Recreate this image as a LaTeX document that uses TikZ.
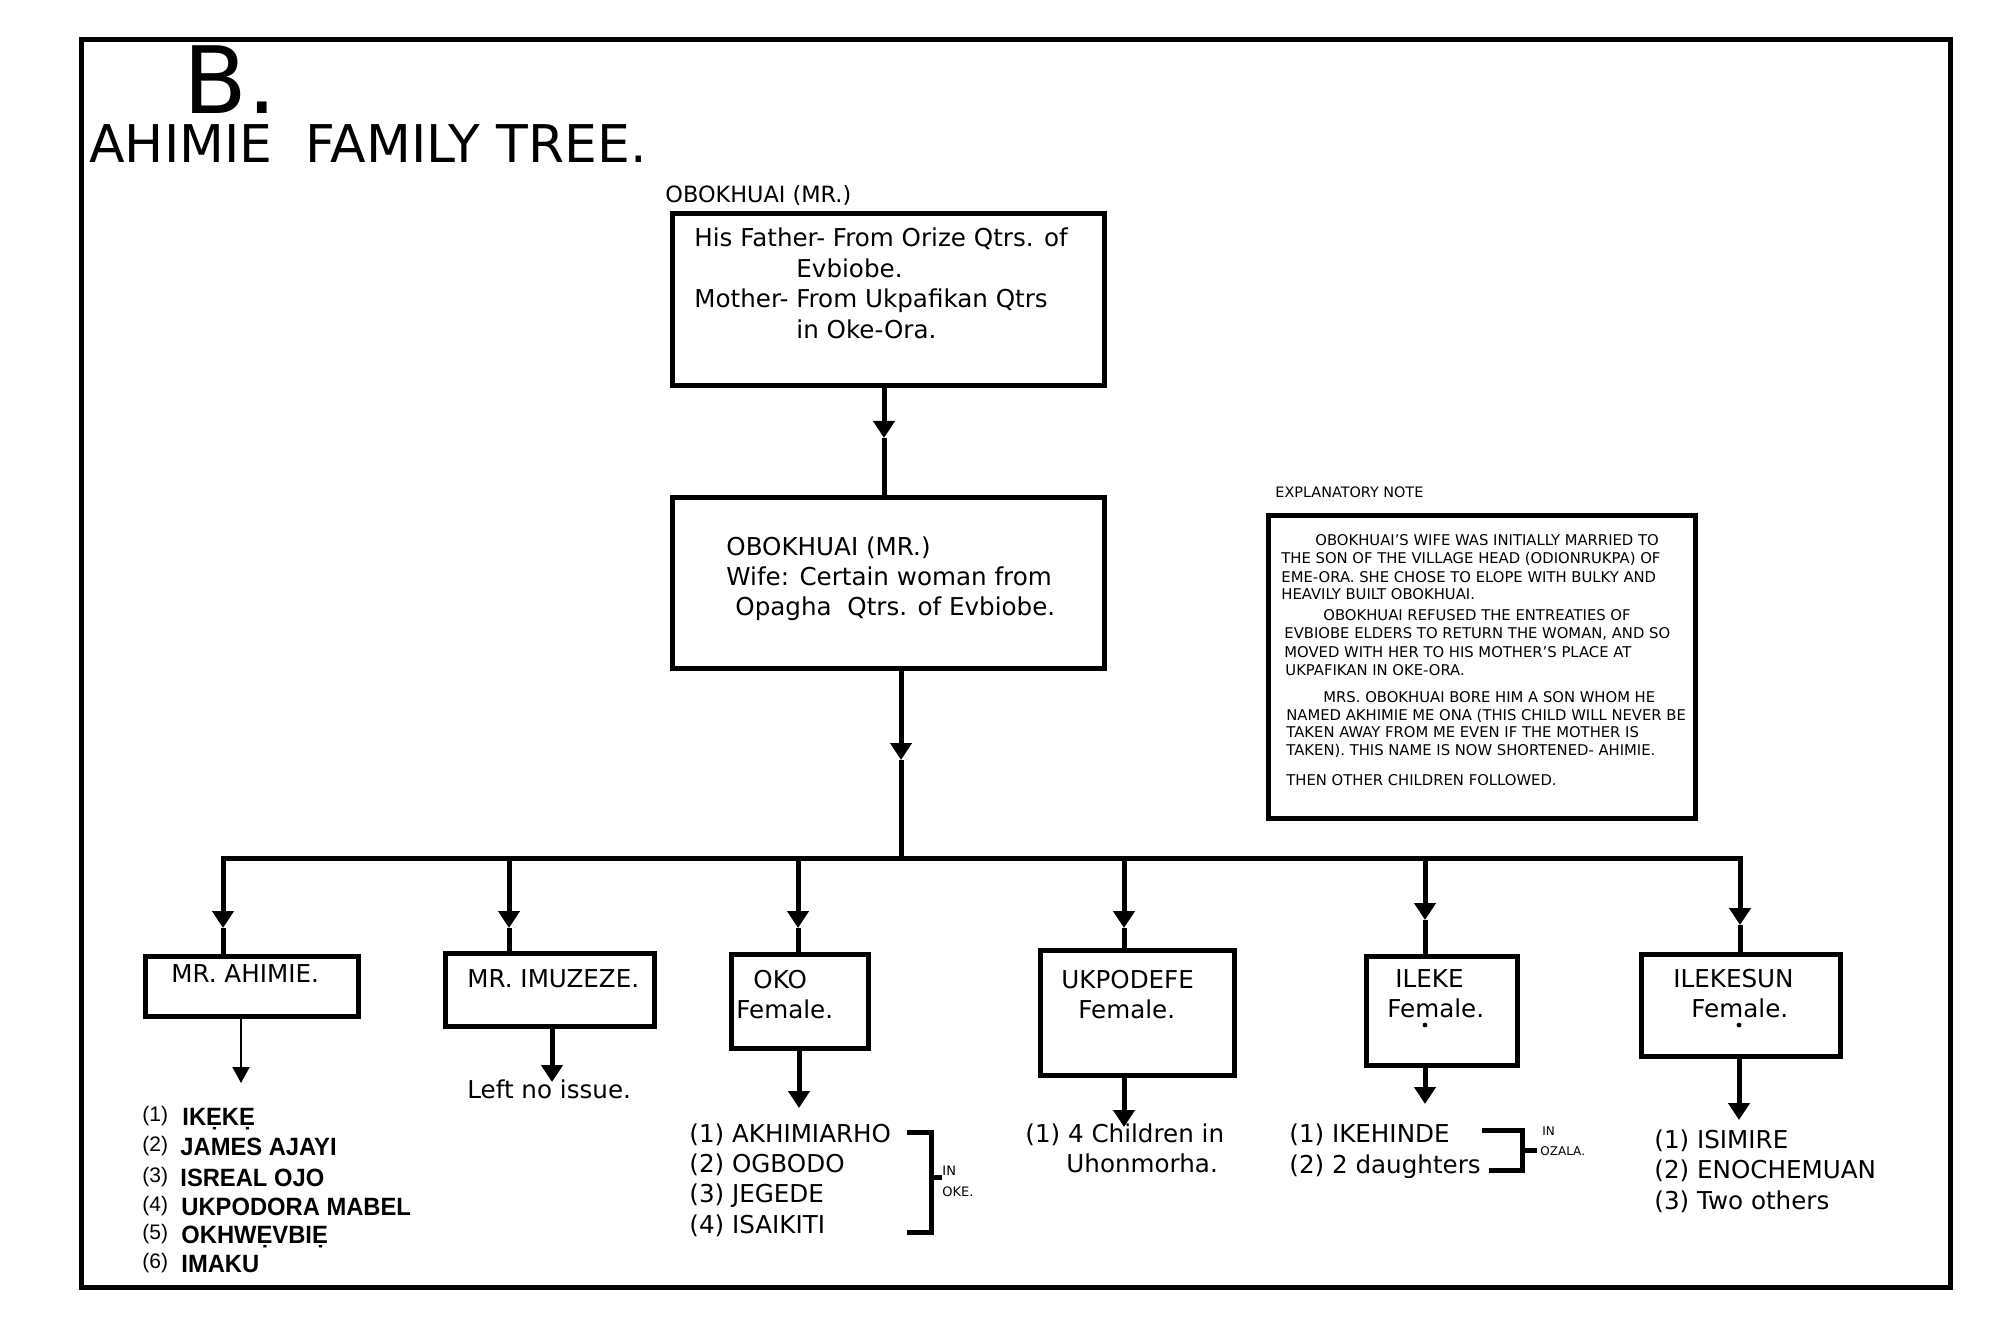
\documentclass[tikz,border=0pt]{standalone}
\usepackage{fontspec}
\setmainfont{DejaVu Sans}
\newfontfamily\arialfont{Liberation Sans}
\newfontfamily\arialnarrow{Liberation Sans}[FakeStretch=0.95]
\usetikzlibrary{arrows.meta}
\newcommand\fsz[1]{\fontsize{#1}{#1}\selectfont}
\newcommand\fambox[5]{\node[boxst,minimum width={(#4-#2)*0.5pt},minimum height={(#5-#3)*0.5pt}] (#1) at ({(#2+#4)/2},{(#3+#5)/2}) {};}
\begin{document}
\begin{tikzpicture}[x=0.5pt,y=-0.5pt,
  conn/.style={line width=2.5pt},
  bar/.style={line width=2.5pt,line cap=rect},
  tip/.style={-{Triangle[width=10.5pt,length=8.5pt]}},
  thintip/.style={-{Triangle[width=8.5pt,length=8pt]}},
  boxst/.style={draw,line width=2.5pt,rectangle,inner sep=0pt},
  txt/.style={inner sep=0pt,anchor=base west,font=\fsz{12.3}},
  note/.style={inner sep=0pt,anchor=base west,font=\fsz{7.4}},
  tiny/.style={inner sep=0pt,anchor=base west,font=\fsz{6.5}},
  num/.style={inner sep=0pt,anchor=base west,font=\arialfont\fsz{10.5}},
  bname/.style={inner sep=0pt,anchor=base west,font=\arialnarrow\bfseries\fsz{12.5}},
  dotmark/.style={circle,fill,inner sep=0pt,minimum size=2.4pt},
  brk/.style={line width=2.5pt,line join=miter}
]
\useasboundingbox (0,0) rectangle (2000,1331);
% frame
\fambox{frame}{81}{40}{1950}{1287}
% titles
\node[txt,font=\fsz{46.5}] (bigB) at (183,114) {B.};
\node[txt,font=\fsz{26}] (title) at (89,163) {AHIMIE\ \ FAMILY TREE.};
\node[txt,font=\fsz{11.2}] (toplabel) at (665,203) {OBOKHUAI (MR.)};
% top box
\fambox{top}{672}{214}{1104}{386}
\node[txt] (t1) at (694,247) {His Father- From Orize Qtrs. of};
\node[txt] (t2) at (796,278) {Evbiobe.};
\node[txt] (t3) at (694,308) {Mother- From Ukpafikan Qtrs};
\node[txt] (t4) at (796,339) {in Oke-Ora.};
% mid box
\fambox{mid}{672}{497}{1104}{668}
\node[txt] (m1) at (726,555) {OBOKHUAI (MR.)};
\node[txt] (m2) at (726,585) {Wife: Certain woman from};
\node[txt] (m3) at (735,615) {Opagha\ \ Qtrs. of Evbiobe.};
% connectors top -> mid -> bar
\coordinate (a1) at (884,438);
\draw[conn,tip] (top.south -| a1) -- (a1);
\draw[conn] (a1) -- (mid.north -| a1);
\coordinate (a2) at (901,760);
\coordinate (j0) at (901,858);
\draw[conn,tip] (mid.south -| a2) -- (a2);
\draw[conn] (a2) -- (j0);
% bar
\coordinate (b1) at (223,858);
\coordinate (b2) at (509,858);
\coordinate (b3) at (798,858);
\coordinate (b4) at (1124,858);
\coordinate (b5) at (1425,858);
\coordinate (b6) at (1740,858);
\draw[bar] (b1) -- (b6);
% children boxes
\fambox{c1}{145}{956}{358}{1016}
\fambox{c2}{445}{953}{654}{1026}
\fambox{c3}{731}{954}{868}{1048}
\fambox{c4}{1040}{950}{1234}{1075}
\fambox{c5}{1366}{956}{1517}{1065}
\fambox{c6}{1641}{954}{1840}{1056}
% branch arrows
\coordinate (h1) at (223,928);
\coordinate (h2) at (509,928);
\coordinate (h3) at (798,928);
\coordinate (h4) at (1124,928);
\coordinate (h5) at (1425,920);
\coordinate (h6) at (1740,925);
\foreach \i in {1,...,6}{
  \draw[conn,tip] (b\i) -- (h\i);
  \draw[conn] (h\i) -- (c\i.north -| h\i);
}
% children texts
\node[txt] (c1a) at (171,982) {MR. AHIMIE.};
\node[txt] (c2a) at (467,987) {MR. IMUZEZE.};
\node[txt] (c3a) at (753,988) {OKO};
\node[txt] (c3b) at (736,1018) {Female.};
\node[txt] (c4a) at (1061,988) {UKPODEFE};
\node[txt] (c4b) at (1078,1018) {Female.};
\node[txt] (c5a) at (1395,987) {ILEKE};
\node[txt] (c5b) at (1387,1017) {Female.};
\node[dotmark] (c5d) at (1425,1025) {};
\node[txt] (c6a) at (1673,987) {ILEKESUN};
\node[txt] (c6b) at (1691,1017) {Female.};
\node[dotmark] (c6d) at (1739,1025) {};
% down arrows
\coordinate (d1) at (241,1083);
\draw[line width=1pt,thintip] (c1.south -| d1) -- (d1);
\coordinate (d2) at (552,1082);
\draw[conn,tip] (c2.south -| d2) -- (d2);
\coordinate (d3) at (799,1108);
\draw[conn,tip] (c3.south -| d3) -- (d3);
\coordinate (d4) at (1124,1127);
\draw[conn,tip] (c4.south -| d4) -- (d4);
\coordinate (d5) at (1425,1104);
\draw[conn,tip] (c5.south -| d5) -- (d5);
\coordinate (d6) at (1739,1120);
\draw[conn,tip] (c6.south -| d6) -- (d6);
% Ahimie children
\node[num] (n1) at (142,1121) {(1)};
\node[num] (n2) at (142,1151) {(2)};
\node[num] (n3) at (142,1182) {(3)};
\node[num] (n4) at (142,1211) {(4)};
\node[num] (n5) at (142,1239) {(5)};
\node[num] (n6) at (142,1268) {(6)};
\node[bname] (k1) at (182,1125) {IKẸKẸ};
\node[bname] (k2) at (180,1155) {JAMES AJAYI};
\node[bname] (k3) at (180,1186) {ISREAL OJO};
\node[bname] (k4) at (181,1215) {UKPODORA MABEL};
\node[bname] (k5) at (181,1243) {OKHWẸVBIẸ};
\node[bname] (k6) at (181,1272) {IMAKU};
% Imuzeze
\node[txt] (li) at (467,1098) {Left no issue.};
% Oko children
\node[txt] (o1) at (689,1142) {(1) AKHIMIARHO};
\node[txt] (o2) at (689,1172) {(2) OGBODO};
\node[txt] (o3) at (689,1202) {(3) JEGEDE};
\node[txt] (o4) at (689,1233) {(4) ISAIKITI};
\coordinate (ob1) at (907,1132);
\coordinate (ob2) at (931,1132);
\coordinate (ob3) at (931,1232);
\coordinate (ob4) at (907,1232);
\coordinate (ob5) at (931,1177);
\coordinate (ob6) at (942,1177);
\draw[brk] (ob1) -- (ob2) -- (ob3) -- (ob4);
\draw[brk] (ob5) -- (ob6);
\node[tiny] (oin) at (942,1175) {IN};
\node[tiny] (ooke) at (942,1196) {OKE.};
% Ukpodefe
\node[txt] (u1) at (1025,1142) {(1) 4 Children in};
\node[txt] (u2) at (1066,1172) {Uhonmorha.};
% Ileke
\node[txt] (i1) at (1289,1142) {(1) IKEHINDE};
\node[txt] (i2) at (1289,1173) {(2) 2 daughters};
\coordinate (ib1) at (1482,1130);
\coordinate (ib2) at (1522,1130);
\coordinate (ib3) at (1522,1170);
\coordinate (ib4) at (1489,1170);
\coordinate (ib5) at (1522,1150);
\coordinate (ib6) at (1537,1150);
\draw[brk] (ib1) -- (ib2) -- (ib3) -- (ib4);
\draw[brk] (ib5) -- (ib6);
\node[tiny,font=\fsz{6}] (iin) at (1542,1135) {IN};
\node[tiny,font=\fsz{6}] (iozala) at (1540,1155) {OZALA.};
% Ilekesun
\node[txt] (s1) at (1654,1148) {(1) ISIMIRE};
\node[txt] (s2) at (1654,1178) {(2) ENOCHEMUAN};
\node[txt] (s3) at (1654,1209) {(3) Two others};
% explanatory note
\node[note,font=\fsz{7.2}] (enh) at (1275,497) {EXPLANATORY NOTE};
\fambox{notebox}{1268}{515}{1695}{818}
\node[note] (e1) at (1315,545) {OBOKHUAI'S WIFE WAS INITIALLY MARRIED TO};
\node[note] (e2) at (1281,563) {THE SON OF THE VILLAGE HEAD (ODIONRUKPA) OF};
\node[note] (e3) at (1281,582) {EME-ORA. SHE CHOSE TO ELOPE WITH BULKY AND};
\node[note] (e4) at (1281,599) {HEAVILY BUILT OBOKHUAI.};
\node[note] (e5) at (1323,620) {OBOKHUAI REFUSED THE ENTREATIES OF};
\node[note] (e6) at (1284,638) {EVBIOBE ELDERS TO RETURN THE WOMAN, AND SO};
\node[note] (e7) at (1284,657) {MOVED WITH HER TO HIS MOTHER'S PLACE AT};
\node[note] (e8) at (1285,675) {UKPAFIKAN IN OKE-ORA.};
\node[note] (e9) at (1323,702) {MRS. OBOKHUAI BORE HIM A SON WHOM HE};
\node[note] (e10) at (1286,720) {NAMED AKHIMIE ME ONA (THIS CHILD WILL NEVER BE};
\node[note] (e11) at (1286,737) {TAKEN AWAY FROM ME EVEN IF THE MOTHER IS};
\node[note] (e12) at (1286,755) {TAKEN). THIS NAME IS NOW SHORTENED- AHIMIE.};
\node[note] (e13) at (1286,785) {THEN OTHER CHILDREN FOLLOWED.};
\end{tikzpicture}
\end{document}
